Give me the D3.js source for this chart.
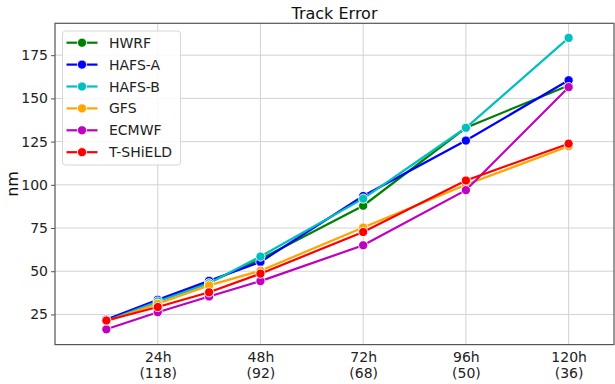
<!DOCTYPE html>
<html>
<head>
<meta charset="utf-8">
<script src="https://cdn.jsdelivr.net/npm/d3@7"></script>
<style>
  html, body { margin: 0; padding: 0; background: #fff; }
  svg { display: block; font-family: "DejaVu Sans", sans-serif; }
</style>
</head>
<body>
<svg id="chart" width="615" height="384"></svg>
<script>
// Forecast lead times (hours) and the sample count shown under each labelled tick
const leadHours = [12, 24, 36, 48, 72, 96, 120];
const tickHours = [24, 48, 72, 96, 120];
const tickCounts = [118, 92, 68, 50, 36];
const yTicks = [25, 50, 75, 100, 125, 150, 175];

// Mean track error (nm) per model
const models = ["HWRF", "HAFS-A", "HAFS-B", "GFS", "ECMWF", "T-SHiELD"];
const colors = ["#008000", "#0000ff", "#00bfbf", "#ffa500", "#bf00bf", "#ff0000"];
const hwrf    = [21.5, 33.0, 43.5, 57.0, 87.9, 133.0, 157.5];
const hafsA   = [22.0, 33.5, 44.5, 55.4, 93.5, 125.6, 160.5];
const hafsB   = [21.2, 32.5, 43.0, 58.5, 92.0, 133.0, 185.0];
const gfs     = [21.0, 31.2, 41.8, 50.3, 75.3, 100.0, 122.3];
const ecmwf   = [16.4, 26.3, 35.4, 44.3, 65.0, 96.9, 156.5];
const tshield = [21.5, 29.3, 37.8, 48.6, 72.7, 102.5, 123.8];
const seriesValues = [hwrf, hafsA, hafsB, gfs, ecmwf, tshield];

const svg = d3.select("#chart");
const plotLeft = 55, plotRight = 614, plotTop = 23.3, plotBottom = 344.6;

const x = d3.scaleLinear().domain([0, 130.6]).range([plotLeft, plotRight]);
const y = d3.scaleLinear().domain([7.55, 193.45]).range([plotBottom, plotTop]);

// Grid
const grid = svg.append("g");
grid.selectAll("line.gx").data(tickHours).join("line")
  .attr("x1", d => x(d)).attr("x2", d => x(d))
  .attr("y1", plotTop).attr("y2", plotBottom)
  .attr("stroke", "#d3d3d3").attr("stroke-width", 1);
grid.selectAll("line.gy").data(yTicks).join("line")
  .attr("x1", plotLeft).attr("x2", plotRight)
  .attr("y1", d => y(d)).attr("y2", d => y(d))
  .attr("stroke", "#d3d3d3").attr("stroke-width", 1);

// Axes
const yAxis = d3.axisLeft(y).tickValues(yTicks).tickSize(4).tickPadding(3);
const gy = svg.append("g").attr("transform", `translate(${plotLeft},0)`).call(yAxis);
gy.select(".domain").remove();
gy.selectAll(".tick line").attr("stroke", "#555");
gy.selectAll(".tick text").attr("font-size", 14).attr("fill", "#222")
  .attr("font-family", "DejaVu Sans, sans-serif");

const xAxis = d3.axisBottom(x).tickValues(tickHours).tickSize(0).tickFormat(() => "");
const gx = svg.append("g").attr("transform", `translate(0,${plotBottom})`).call(xAxis);
gx.select(".domain").remove();
gx.selectAll(".tick").each(function (d, i) {
  const t = d3.select(this).append("text")
    .attr("fill", "#222").attr("font-size", 14).attr("text-anchor", "middle")
    .attr("font-family", "DejaVu Sans, sans-serif");
  t.append("tspan").attr("x", 0).attr("y", 17.4).text(d + "h");
  t.append("tspan").attr("x", 0).attr("y", 33.6).text("(" + tickCounts[i] + ")");
});

// Spines
svg.append("rect").attr("x", plotLeft).attr("y", plotTop)
  .attr("width", plotRight - plotLeft).attr("height", plotBottom - plotTop)
  .attr("fill", "none").attr("stroke", "#555").attr("stroke-width", 1.2);

// Series
const line = d3.line().x((d, i) => x(leadHours[i])).y(d => y(d));
const plot = svg.append("g");
seriesValues.forEach((vals, k) => {
  const g = plot.append("g");
  g.append("path").datum(vals).attr("d", line)
    .attr("fill", "none").attr("stroke", colors[k]).attr("stroke-width", 2.2);
  g.selectAll("circle").data(vals).join("circle")
    .attr("cx", (d, i) => x(leadHours[i])).attr("cy", d => y(d)).attr("r", 4.6)
    .attr("fill", colors[k]).attr("stroke", "#fff").attr("stroke-width", 0.9);
});

// Title and y label
svg.append("text").attr("x", (plotLeft + plotRight) / 2).attr("y", 19)
  .attr("text-anchor", "middle").attr("font-size", 16).attr("fill", "#111")
  .text("Track Error");
svg.append("text").attr("transform", `translate(18,${(plotTop + plotBottom) / 2}) rotate(-90)`)
  .attr("text-anchor", "middle").attr("font-size", 16).attr("fill", "#111")
  .text("nm");

// Legend
const lg = svg.append("g");
lg.append("rect").attr("x", 62.5).attr("y", 31).attr("width", 118).attr("height", 134)
  .attr("rx", 3).attr("fill", "#fff").attr("fill-opacity", 0.85)
  .attr("stroke", "#d6d6d6").attr("stroke-width", 1);
models.forEach((name, k) => {
  const cy = 42.7 + k * 21.9;
  lg.append("line").attr("x1", 66.5).attr("x2", 97.5).attr("y1", cy).attr("y2", cy)
    .attr("stroke", colors[k]).attr("stroke-width", 2.2);
  lg.append("circle").attr("cx", 82).attr("cy", cy).attr("r", 4.6)
    .attr("fill", colors[k]).attr("stroke", "#fff").attr("stroke-width", 0.9);
  lg.append("text").attr("x", 109).attr("y", cy + 5).attr("font-size", 14)
    .attr("fill", "#222").text(name);
});
</script>
</body>
</html>
